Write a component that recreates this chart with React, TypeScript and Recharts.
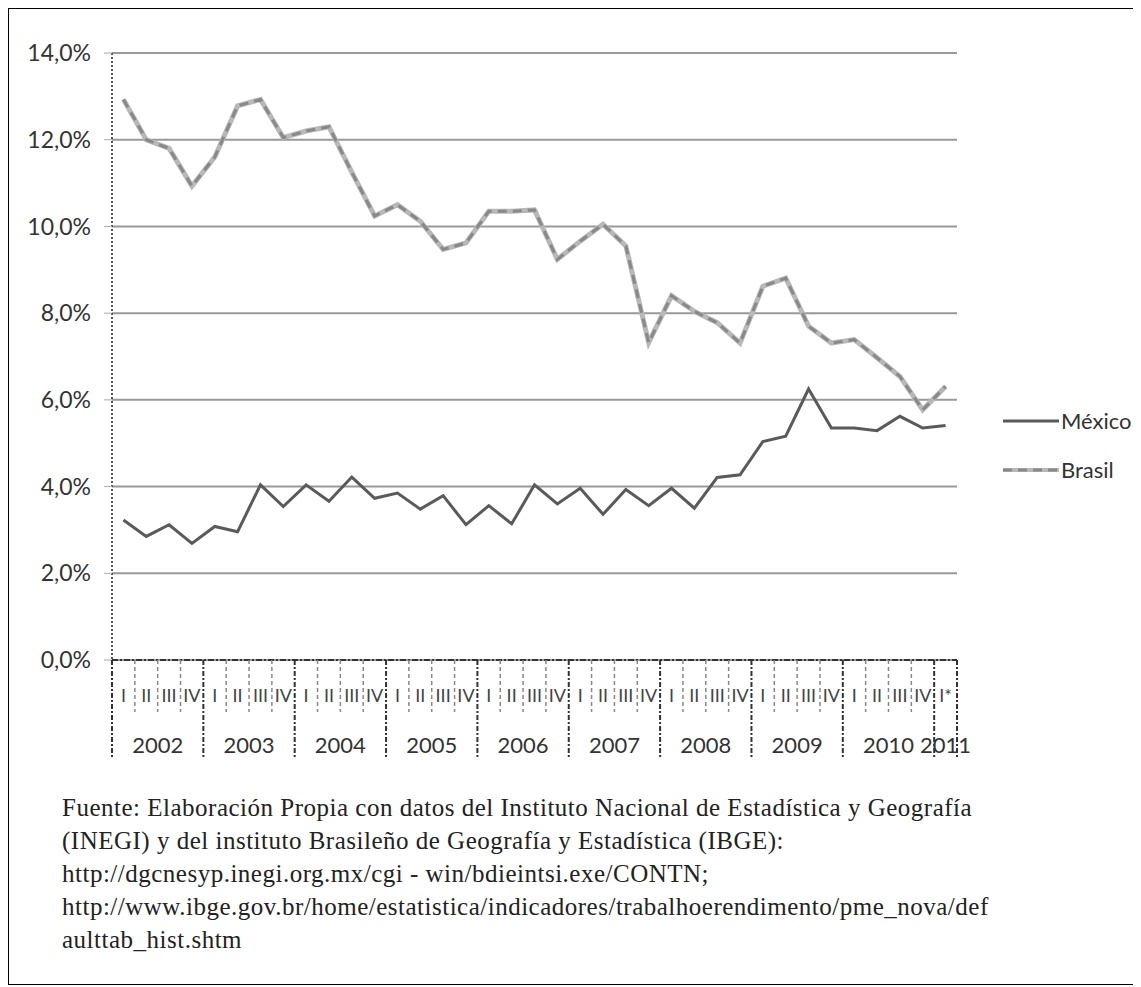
import { LineChart, Line, XAxis, YAxis, CartesianGrid, Legend } from "recharts";

const quarterLabels = [
  "I", "II", "III", "IV", "I", "II", "III", "IV", "I", "II", "III", "IV",
  "I", "II", "III", "IV", "I", "II", "III", "IV", "I", "II", "III", "IV",
  "I", "II", "III", "IV", "I", "II", "III", "IV", "I", "II", "III", "IV",
  "I*",
];
const yearLabels = ["2002", "2003", "2004", "2005", "2006", "2007", "2008", "2009", "2010", "2011"];

const mexico = [
  3.23, 2.85, 3.12, 2.69, 3.08, 2.96, 4.04, 3.54, 4.04, 3.66, 4.22, 3.73,
  3.85, 3.48, 3.79, 3.12, 3.56, 3.14, 4.04, 3.6, 3.96, 3.36, 3.93, 3.56,
  3.96, 3.5, 4.21, 4.27, 5.04, 5.16, 6.25, 5.35, 5.35, 5.29, 5.62, 5.35,
  5.41,
];
const brasil = [
  12.93, 12.0, 11.8, 10.93, 11.6, 12.78, 12.93, 12.05, 12.2, 12.3, 11.25, 10.24,
  10.5, 10.12, 9.47, 9.62, 10.35, 10.35, 10.38, 9.24, 9.66, 10.05, 9.55, 7.32,
  8.4, 8.04, 7.78, 7.31, 8.62, 8.81, 7.7, 7.31, 7.39, 6.97, 6.54, 5.77,
  6.31,
];
const yTicks = [0, 2, 4, 6, 8, 10, 12, 14];

const data = quarterLabels.map((q, i) => ({
  q,
  year: yearLabels[Math.floor(i / 4)],
  mexico: mexico[i],
  brasil: brasil[i],
}));

const CHART_W = 1120;
const CHART_H = 771;
const LEGEND_W = 130;
// recharts adds the legend width to the right offset (vertical layout, right aligned)
const MARGIN = { top: 44, right: 172 - LEGEND_W, bottom: 20, left: 18 };
const Y_W = 85;
const X_H = 100;
const BAND = (CHART_W - MARGIN.left - 172 - Y_W) / quarterLabels.length;
const FONT = "Lato, 'Open Sans', sans-serif";

function XTick(props: any) {
  const { x, y, index } = props;
  const top = y - 8; // tick y sits below the axis line by tickSize + tickMargin
  const left = x - BAND / 2;
  const yearStart = index % 4 === 0;
  const nq = Math.min(4, quarterLabels.length - index);
  return (
    <g>
      {yearStart ? (
        <line x1={left} x2={left} y1={top} y2={top + 97} stroke="#333" strokeWidth={2} strokeDasharray="5 2 2 2" />
      ) : (
        <line x1={left} x2={left} y1={top} y2={top + 52} stroke="#888" strokeWidth={1.5} strokeDasharray="4 3" />
      )}
      {index === quarterLabels.length - 1 && (
        <line x1={x + BAND / 2} x2={x + BAND / 2} y1={top} y2={top + 97} stroke="#333" strokeWidth={2} strokeDasharray="5 2 2 2" />
      )}
      <text x={x} y={top + 35} textAnchor="middle" dominantBaseline="central" fontSize={18} fontFamily={FONT} fill="#444">
        {quarterLabels[index]}
      </text>
      {yearStart && (
        <text x={left + (nq * BAND) / 2} y={top + 84} textAnchor="middle" dominantBaseline="central" fontSize={22} fontFamily={FONT} fill="#333">
          {yearLabels[index / 4]}
        </text>
      )}
    </g>
  );
}

function LegendBox() {
  return (
    <div style={{ fontFamily: FONT, fontSize: 22, color: "#333" }}>
      <div style={{ display: "flex", alignItems: "center", height: 49 }}>
        <svg width={56} height={10}>
          <line x1={0} x2={56} y1={5} y2={5} stroke="#5a5a5a" strokeWidth={3} />
        </svg>
        <span style={{ marginLeft: 2 }}>México</span>
      </div>
      <div style={{ display: "flex", alignItems: "center", height: 49 }}>
        <svg width={56} height={10}>
          <line x1={0} x2={56} y1={5} y2={5} stroke="#b8b8b8" strokeWidth={4} />
          <line x1={0} x2={56} y1={5} y2={5} stroke="#888" strokeWidth={3} strokeDasharray="9 6" />
        </svg>
        <span style={{ marginLeft: 2 }}>Brasil</span>
      </div>
    </div>
  );
}

const captionLines = [
  "Fuente:  Elaboración Propia con datos del Instituto Nacional de Estadística y Geografía",
  "(INEGI) y del instituto Brasileño de Geografía y Estadística (IBGE):",
  "http://dgcnesyp.inegi.org.mx/cgi - win/bdieintsi.exe/CONTN;",
  "http://www.ibge.gov.br/home/estatistica/indicadores/trabalhoerendimento/pme_nova/def",
  "aulttab_hist.shtm",
];

export default function App() {
  return (
    <div
      style={{
        position: "relative",
        width: 1131,
        height: 977,
        boxSizing: "border-box",
        border: "1px solid #000",
        background: "#fff",
      }}
    >
      <LineChart width={CHART_W} height={CHART_H} data={data} margin={MARGIN}>
        <CartesianGrid vertical={false} stroke="#999" strokeWidth={2} />
        <XAxis
          dataKey="q"
          interval={0}
          height={X_H}
          padding={{ left: BAND / 2, right: BAND / 2 }}
          tickLine={false}
          axisLine={{ stroke: "#333", strokeWidth: 2, strokeDasharray: "6 2 2 2" }}
          tick={(p: any) => <XTick {...p} />}
        />
        <YAxis
          width={Y_W}
          domain={[0, 14]}
          ticks={yTicks}
          interval={0}
          tickSize={8}
          tickMargin={13}
          tickLine={{ stroke: "#aaa" }}
          axisLine={{ stroke: "#555", strokeWidth: 2, strokeDasharray: "2 2" }}
          tickFormatter={(v: number) => v.toFixed(1).replace(".", ",") + "%"}
          tick={{ fill: "#333", fontSize: 23, fontFamily: FONT }}
        />
        <Legend
          layout="vertical"
          verticalAlign="top"
          align="right"
          content={() => <LegendBox />}
          wrapperStyle={{ position: "absolute", left: 994, top: 387, width: LEGEND_W }}
        />
        <Line dataKey="mexico" name="México" type="linear" stroke="#5a5a5a" strokeWidth={3} dot={false} isAnimationActive={false} />
        <Line dataKey="brasil" name="Brasil" type="linear" stroke="#b8b8b8" strokeWidth={5} dot={false} isAnimationActive={false} />
        <Line dataKey="brasil" legendType="none" type="linear" stroke="#888" strokeWidth={3} strokeDasharray="9 6" dot={false} isAnimationActive={false} />
      </LineChart>
      <div
        style={{
          position: "absolute",
          left: 53,
          top: 782,
          fontFamily: "'Liberation Serif', 'Times New Roman', serif",
          fontSize: 25,
          lineHeight: "33px",
          letterSpacing: 0.5,
          color: "#222",
          whiteSpace: "nowrap",
        }}
      >
        {captionLines.map((t) => (
          <div key={t}>{t}</div>
        ))}
      </div>
    </div>
  );
}
